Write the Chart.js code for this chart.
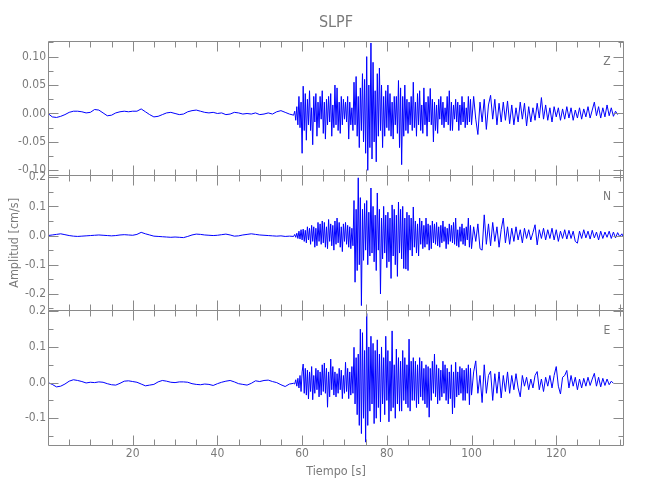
<!DOCTYPE html>
<html>
<head>
<meta charset="utf-8">
<script src="https://cdn.jsdelivr.net/npm/chart.js@4"></script>
<style>
  body { margin: 0; background: #fff; }
</style>
</head>
<body>
<canvas id="myChart" width="650" height="500"></canvas>
<script>
// sampling: quiet part every 1 s from 0, strong part every 0.25 s from 58.25, coda every 0.5 s from 100.5
const segStart = [0, 58.25, 100.5];
const segStep = [1, 0.25, 0.5];

// Z component [cm/s]
const zQuiet = [0, -.006, -.007, -.005, -.002, .002, .004, .004, .003, .001,
  .002, .007, .006, .001, -.004, -.003, .001, .003, .004, .003,
  .004, .004, .008, .003, -.002, -.006, -.005, -.002, .001, .002,
  0, -.002, -.001, .003, .005, .006, .004, .002, .001, .002,
  0, .001, -.002, -.001, .002, .001, -.001, 0, -.001, .001,
  -.002, -.001, .001, -.001, .003, .005, .002, -.001, -.003];
const zStrong = [
  .004, -.012, .012, -.02,   .03, -.025, .02, -.07,   .048, -.03, .035, -.047,
  .025, -.02, .04, -.03,     .01, -.055, .03, -.015,  .035, -.04, .02, -.025,
  .03, -.01, .04, -.035,     .02, -.045, .025, -.02,  .03, -.015, .035, -.04,
  .015, -.025, .05, -.02,    .045, -.03, .02, -.035,  .03, -.02, .025, -.01,
  .02, -.015, .03, -.045,    .02, -.02, .01, -.03,    .055, -.02, .065, -.04,
  .03, -.06, .045, -.03,     .07, -.05, .06, -.07,    .10, -.10, .05, -.06,
  .124, -.08, .09, -.05,     .04, -.085, .07, -.04,   .08, -.03, .05, -.06,
  .03, -.04, .04, -.025,     .05, -.03, .035, -.04,   .02, -.045, .03, -.02,
  .03, -.035, .058, -.06,    .045, -.09, .03, -.04,   .05, -.03, .025, -.035,
  .02, -.02, .03, -.03,      .055, -.025, .02, -.04,  .035, -.02, .04, -.03,
  .015, -.035, .045, -.02,   .02, -.04, .03, -.015,   .044, -.02, .025, -.05,
  .02, -.03, .015, -.035,    .025, -.01, .03, -.02,   .02, -.025, .01, -.015,
  .03, -.02, .04, -.03,      .02, -.03, .015, -.01,   .025, -.015, .02, -.03,
  .015, -.02, .03, -.015,    .02, -.025, .01, -.02,   .03, -.015, .025, -.02];
const zCoda = [.03, -.01, -.037, .02, -.015, .025, -.028, .015, .032, -.01,
  .025, -.02, .018, -.015, .02, -.012, .022, -.018, .015, -.02,
  .01, -.015, .02, -.01, .018, -.022, .012, -.015, .01, -.012,
  .018, -.008, .028, -.01, .015, -.012, .01, -.015, .012, -.006,
  .01, -.012, .008, -.01, .012, -.008, .01, -.012, .006, -.008,
  .01, -.01, .008, -.006, .012, -.008, .006, .02, -.004, .012,
  -.008, .01, -.006, .015, -.004, .01, -.005, .004, -.002];

// N component [cm/s]
const nQuiet = [0, .002, .004, .006, .003, 0, -.002, -.003, -.002, -.001,
  0, .001, .002, .001, 0, -.001, 0, .002, .003, .002,
  .001, .004, .011, .006, .002, -.002, -.003, -.004, -.005, -.006,
  -.005, -.006, -.007, -.003, .002, .005, .004, .002, .001, 0,
  .001, .003, .005, .002, -.002, -.001, .002, .004, .006, .004,
  .002, .001, 0, -.001, -.002, -.001, -.003, -.002, -.003];
const nStrong = [
  .004, -.006, .008, -.01,   .015, -.012, .02, -.015,  .022, -.02, .018, -.025,
  .03, -.015, .025, -.03,    .035, -.02, .03, -.04,    .025, -.035, .045, -.02,
  .04, -.03, .05, -.025,     .045, -.04, .03, -.045,   .055, -.02, .04, -.035,
  .035, -.05, .05, -.03,     .06, -.025, .045, -.04,   .03, -.055, .04, -.02,
  .045, -.03, .035, -.04,    .03, -.045, .025, -.035,  .12, -.16, .09, -.12,
  .198, -.1, .13, -.24,      .09, -.085, .11, -.05,    .12, -.1, .08, -.07,
  .163, -.06, .1, -.09,      .07, -.12, .146, -.05,    .09, -.2, .06, -.08,
  .1, -.06, .07, -.11,       .08, -.09, .06, -.147,    .105, -.07, .09, -.1,
  .07, -.14, .115, -.06,     .09, -.08, .1, -.113,     .06, -.115, .08, -.12,
  .07, -.05, .06, -.07,      .098, -.04, .05, -.06,    .04, -.07, .06, -.03,
  .05, -.045, .035, -.04,    .06, -.03, .04, -.05,     .035, -.045, .05, -.025,
  .04, -.03, .045, -.035,    .03, -.04, .035, -.025,   .05, -.02, .03, -.045,
  .025, -.03, .04, -.02,     .035, -.025, .045, -.03,  .06, -.035, .02, -.04,
  .03, -.02, .04, -.03,      .025, -.035, .03, -.015,  .06, -.04, .035, -.045];
const nCoda = [.03, -.02, .04, -.045, -.05, .071, -.03, .04, -.035, .045,
  -.02, .03, -.04, .02, .06, -.025, .03, -.03, .025, -.02,
  .03, -.015, .02, -.025, .025, -.01, .02, -.015, .01, .037,
  -.032, .02, -.01, .025, -.015, .02, -.01, .025, -.015, .02,
  -.02, .015, -.01, .02, -.012, .018, -.01, .015, -.02, -.026,
  .015, -.01, .02, -.008, .015, -.012, .018, -.008, .012, -.015,
  .015, -.01, .012, -.006, .015, -.01, .012, -.008, .01, -.004,
  .006, -.01];

// E component [cm/s]
const eQuiet = [0, -.005, -.012, -.01, -.004, .004, .008, .006, .003, -.001,
  .001, 0, .002, .001, -.003, -.006, -.007, -.002, .004, .005,
  .003, .001, -.004, -.009, -.007, -.005, .002, .006, .004, .001,
  0, .002, .002, .001, -.003, -.005, -.006, -.004, -.005, -.008,
  -.003, .001, .004, .006, .002, -.003, -.005, -.007, -.002, .005,
  .003, .006, .007, .003, 0, -.006, -.011, -.004, -.002];
const eStrong = [
  -.004, .008, -.01, .012,   -.015, .02, -.025, .03,   .052, -.03, .04, -.035,
  .035, -.046, .03, -.025,   .045, -.048, .02, -.03,   .04, -.02, .035, -.04,
  .03, -.035, .05, -.025,    .055, -.03, .04, -.069,   .03, -.04, .066, -.02,
  .045, -.035, .03, -.04,    .025, -.03, .04, -.02,    .035, -.045, .02, -.03,
  .057, -.025, .04, -.045,   .03, -.035, .045, -.03,   .099, -.06, .07, -.09,
  .08, -.12, .15, -.143,     .14, -.1, .09, -.167,     .194, -.12, .1, -.08,
  .13, -.06, .11, -.115,     .09, -.1, .12, -.07,      .08, -.11, .1, -.06,
  .07, -.09, .13, -.05,      .09, -.11, .06, -.08,     .145, -.07, .05, -.1,
  .094, -.06, .07, -.08,     .06, -.08, .09, -.05,     .07, -.06, .05, -.07,
  .122, -.08, .06, -.05,     .07, -.05, .06, -.07,     .05, -.06, .07, -.04,
  .06, -.05, .04, -.06,      .05, -.07, .045, -.097,   .04, -.05, .06, -.03,
  .08, -.04, .05, -.06,      .04, -.05, .035, -.04,    .06, -.03, .05, -.05,
  .04, -.06, .03, -.045,     .05, -.088, .03, -.07,    .057, -.04, .03, -.035,
  .045, -.03, .04, -.05,     .035, -.05, .04, -.03,    .05, -.062, .04, -.035];
const eCoda = [.03, .061, -.03, .02, -.056, .05, -.03, .02, .032, -.05,
  .025, -.03, .03, -.043, .02, -.025, .03, -.03, .02, -.02,
  .025, -.015, -.04, .02, -.01, .015, -.02, .01, -.015, .02,
  .031, -.02, .01, -.025, .015, -.01, .02, -.015, .02, .045,
  -.01, -.032, .015, .02, .034, -.015, .02, -.01, .015, -.02,
  .01, -.015, .012, -.01, .015, -.008, .01, .026, -.01, .015,
  -.012, .012, -.008, .01, -.006, .004, -.002];

const xTicks = [20, 40, 60, 80, 100, 120];

const axisColor = '#8a8a8a';
const textColor = '#7a7a7a';
const traceColor = '#0000ff';

function points(parts) {
  const out = [];
  parts.forEach((vals, s) => {
    vals.forEach((v, i) => out.push({ x: segStart[s] + i * segStep[s], y: v }));
  });
  return out;
}

// panel settings: axis id, label, y range, major/minor tick steps, decimals
const panels = [
  { id: 'yE', name: 'E', min: -0.175, max: 0.203, major: 0.1, minor: 0.05, dec: 1 },
  { id: 'yN', name: 'N', min: -0.256, max: 0.206, major: 0.1, minor: 0.05, dec: 1 },
  { id: 'yZ', name: 'Z', min: -0.109, max: 0.128, major: 0.05, minor: 0.025, dec: 2 },
];

Chart.defaults.font.family = "'DejaVu Sans Condensed', 'DejaVu Sans', sans-serif";
Chart.defaults.font.size = 12;
Chart.defaults.color = textColor;

const scales = {
  x: {
    type: 'linear',
    position: 'bottom',
    min: 0,
    max: 136,
    afterBuildTicks: (s) => { s.ticks = xTicks.map(v => ({ value: v })); },
    afterFit: (s) => { s.height = 55; },
    grid: { display: false, drawTicks: false },
    border: { display: false },
    ticks: { maxRotation: 0, padding: 2, color: textColor },
    title: { display: true, text: 'Tiempo [s]', font: { size: 12.5 }, color: textColor, padding: { top: 0, bottom: 21 } },
  },
};
panels.forEach(p => {
  scales[p.id] = {
    type: 'linear',
    position: 'left',
    stack: 'comp',
    stackWeight: 1,
    min: p.min,
    max: p.max,
    afterFit: (s) => { s.width = 48; },
    grid: { display: false, drawTicks: false },
    border: { display: false },
    ticks: {
      stepSize: p.major,
      includeBounds: false,
      padding: 2,
      color: textColor,
      callback: (v) => (Math.abs(v) < 1e-9 ? 0 : v).toFixed(p.dec),
    },
    title: {
      display: p.id === 'yN',
      text: 'Amplitud [cm/s]',
      font: { size: 12.5 },
      color: textColor,
      padding: { top: 7, bottom: 0 },
    },
  };
});

const frame = {
  id: 'frame',
  afterDatasetsDraw(chart) {
    const ctx = chart.ctx;
    const x = chart.scales.x;
    const area = chart.chartArea;
    const l = Math.round(area.left) + 0.5, r = Math.round(area.right) - 0.5;
    ctx.save();
    ctx.strokeStyle = axisColor;
    ctx.lineWidth = 1;
    panels.forEach(p => {
      const y = chart.scales[p.id];
      const top = Math.round(y.top) + 0.5, bot = Math.round(y.bottom) + 0.5;
      ctx.beginPath();
      ctx.rect(l, top, r - l, bot - top);
      for (let t = 5; t < x.max; t += 5) {
        const px = Math.round(x.getPixelForValue(t)) + 0.5;
        const len = t % 20 === 0 ? 10 : 6;
        ctx.moveTo(px, top); ctx.lineTo(px, top + len);
        ctx.moveTo(px, bot); ctx.lineTo(px, bot - len);
      }
      for (let k = Math.ceil(p.min / p.minor); k * p.minor <= p.max; k++) {
        const v = k * p.minor;
        const py = Math.round(y.getPixelForValue(v)) + 0.5;
        const q = v / p.major;
        const len = Math.abs(q - Math.round(q)) < 1e-6 ? 10 : 5;
        ctx.moveTo(l, py); ctx.lineTo(l + len, py);
        ctx.moveTo(r, py); ctx.lineTo(r - len, py);
      }
      ctx.stroke();
      ctx.fillStyle = textColor;
      ctx.font = "12px " + Chart.defaults.font.family;
      ctx.textAlign = 'center';
      ctx.textBaseline = 'middle';
      ctx.fillText(p.name, area.right - 17, y.top + 21);
    });
    ctx.restore();
  },
};

const ctx = document.getElementById('myChart');

new Chart(ctx, {
  type: 'line',
  data: {
    datasets: [
      { label: 'Z', data: points([zQuiet, zStrong, zCoda]), yAxisID: 'yZ' },
      { label: 'N', data: points([nQuiet, nStrong, nCoda]), yAxisID: 'yN' },
      { label: 'E', data: points([eQuiet, eStrong, eCoda]), yAxisID: 'yE' },
    ].map(d => Object.assign(d, {
      borderColor: traceColor,
      borderWidth: 1,
      pointRadius: 0,
      tension: 0,
      fill: false,
    })),
  },
  options: {
    responsive: false,
    animation: false,
    layout: { padding: { left: 0, right: 26, top: 0, bottom: 0 } },
    scales: scales,
    plugins: {
      legend: { display: false },
      tooltip: { enabled: false },
      title: {
        display: true,
        text: 'SLPF',
        fullSize: false,
        color: textColor,
        font: { size: 16, weight: 'normal' },
        padding: { top: 13, bottom: 8.5 },
      },
    },
  },
  plugins: [frame],
});
</script>
</body>
</html>
